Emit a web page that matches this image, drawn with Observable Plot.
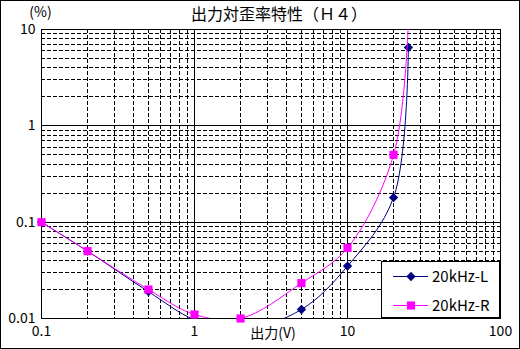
<!DOCTYPE html>
<html><head><meta charset="utf-8">
<script src="https://cdn.jsdelivr.net/npm/d3@7"></script>
<script src="https://cdn.jsdelivr.net/npm/@observablehq/plot@0.6"></script>
<style>
body{margin:0;background:#fff;}
svg{display:block;outline:1px solid #000;outline-offset:-1px;}
</style>
</head><body>
<div id="chart"></div>
<script>
const titleText = "出力対歪率特性（Ｈ４）";
const yUnit = "(%)";
const xLabel = "出力(V)";
const xTickValues = [0.1, 1, 10, 100];
const xTickLabels = ["0.1", "1", "10", "100"];
const yTickValues = [0.01, 0.1, 1, 10];
const yTickLabels = ["0.01", "0.1", "1", "10"];
const seriesNames = ["20kHz-L", "20kHz-R"];
const seriesColors = ["#000080", "#FF00FF"];
const outputV = [0.1, 0.2, 0.5, 1, 2, 5, 10, 20, 25];
const thdL = [0.1, 0.05, 0.019, 0.0097, 0.0076, 0.0124, 0.035, 0.18, 6.5];
const thdR = [0.1, 0.05, 0.02, 0.011, 0.01, 0.0233, 0.054, 0.5, 12];

const dataL = outputV.map((v, i) => ({x: v, y: thdL[i]}));
const dataR = outputV.map((v, i) => ({x: v, y: thdR[i]}));
const inRange = d => d.x >= 0.1 && d.x <= 100 && d.y >= 0.01 && d.y <= 10;

function minors(lo, hi) {
  const out = [];
  for (let p = lo; p < hi; p++) for (let k = 2; k <= 9; k++) out.push(k * Math.pow(10, p));
  return out;
}
const minorX = minors(-1, 2);
const minorY = minors(-2, 1);
const font = "'Noto Sans CJK JP', sans-serif";
const crisp = {stroke: "#000", strokeWidth: 1, shapeRendering: "crispEdges"};

const svg = Plot.plot({
  width: 520, height: 349,
  marginLeft: 41, marginRight: 20, marginTop: 29, marginBottom: 31,
  style: {fontFamily: font, background: "#fff", color: "#000"},
  x: {type: "log", domain: [0.1, 100]},
  y: {type: "log", domain: [0.01, 10]},
  marks: [
    Plot.ruleX(minorX, {...crisp, strokeDasharray: "4,2"}),
    Plot.ruleY(minorY, {...crisp, strokeDasharray: "4,2"}),
    Plot.ruleX(xTickValues, crisp),
    Plot.ruleY(yTickValues, crisp),
    Plot.frame(crisp),
    Plot.axisX({ticks: xTickValues, tickFormat: d => xTickLabels[xTickValues.indexOf(d)], tickSize: 0, tickPadding: 8, fontSize: 14, label: null}),
    Plot.axisY({ticks: yTickValues, tickFormat: d => yTickLabels[yTickValues.indexOf(d)], tickSize: 0, tickPadding: 6, fontSize: 14, label: null}),
    Plot.line(dataL, {x: "x", y: "y", stroke: seriesColors[0], strokeWidth: 1, curve: "catmull-rom", clip: "frame"}),
    Plot.dot(dataL.filter(inRange), {x: "x", y: "y", symbol: "diamond2", fill: seriesColors[0], stroke: "none", r: 4.2}),
    Plot.line(dataR, {x: "x", y: "y", stroke: seriesColors[1], strokeWidth: 1, curve: "catmull-rom", clip: "frame"}),
    Plot.dot(dataR.filter(inRange), {x: "x", y: "y", symbol: "square", fill: seriesColors[1], stroke: "none", r: 4.6}),
    Plot.text([titleText], {frameAnchor: "top", lineAnchor: "middle", dy: -15, dx: 8, fontSize: 16}),
    Plot.text([yUnit], {frameAnchor: "top-left", lineAnchor: "middle", textAnchor: "middle", dy: -17, dx: -1, fontSize: 14}),
    Plot.text([xLabel], {frameAnchor: "bottom", lineAnchor: "middle", dy: 15, dx: 2, fontSize: 14})
  ]
});

// legend
const g = d3.select(svg).append("g").attr("font-family", font).attr("font-size", 15).attr("text-anchor", "start");
const lx = 381, ly = 261, lw = 119, lh = 57;
g.append("rect").attr("x", lx + 0.5).attr("y", ly + 0.5).attr("width", lw - 1).attr("height", lh - 1)
  .attr("fill", "#fff").attr("stroke", "#000").attr("shape-rendering", "crispEdges");
seriesNames.forEach((name, i) => {
  const cy = ly + 15.5 + i * 29;
  g.append("line").attr("x1", lx + 12).attr("x2", lx + 47).attr("y1", cy).attr("y2", cy)
    .attr("stroke", seriesColors[i]).attr("stroke-width", 1);
  const sym = i === 0 ? d3.symbol(d3.symbolDiamond2, Math.PI * 4.2 * 4.2) : d3.symbol(d3.symbolSquare, Math.PI * 4.6 * 4.6);
  g.append("path").attr("d", sym()).attr("transform", `translate(${lx + 30},${cy})`).attr("fill", seriesColors[i]);
  g.append("text").attr("x", lx + 51).attr("y", cy).attr("dy", "0.35em").attr("fill", "#000").attr("text-anchor", "start").text(name);
});

document.getElementById("chart").append(svg);
</script>
</body></html>
